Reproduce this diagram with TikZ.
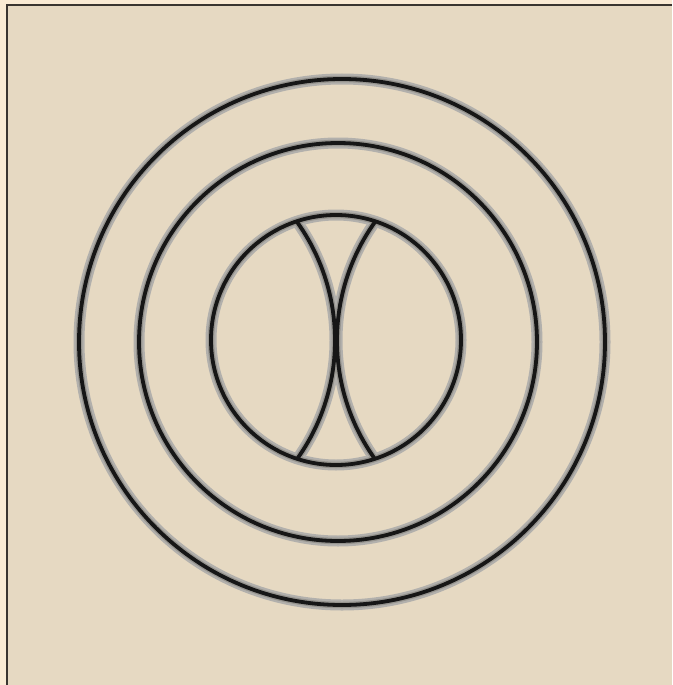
\documentclass[tikz,border=0pt]{standalone}
\definecolor{outerbg}{HTML}{FAEBD4}
\definecolor{innerbg}{HTML}{E6D9C2}
\definecolor{frameline}{HTML}{3A3530}
\definecolor{halo}{HTML}{B2B0AC}
\definecolor{halomid}{HTML}{96948F}
\definecolor{ink}{HTML}{161616}
\tikzset{
  haloline/.style={draw=halo, line width=11pt},
  halomidline/.style={draw=halomid, line width=6.5pt},
  inkline/.style={draw=ink, line width=3.8pt}
}
\begin{document}
\begin{tikzpicture}[x=1pt,y=-1pt]
\useasboundingbox (0,0) rectangle (672,685);
\fill[outerbg] (0,0) rectangle (672,685);
\fill[innerbg] (7,5.2) rectangle (672,685);
\draw[frameline, line width=1.5pt] (7,685) -- (7,5.2) -- (672,5.2);
\coordinate (cO) at (342,342);
\coordinate (cM) at (338,342);
\coordinate (cI) at (336,340);
\coordinate (cL) at (131,340.5);
\coordinate (cR) at (541,340.5);
\foreach \sty in {haloline,halomidline,inkline}{
  \path[\sty] (cO) circle[radius=263pt];
  \path[\sty] (cM) circle[radius=199pt];
  \path[\sty] (cI) circle[radius=125pt];
  \begin{scope}
    \clip (cI) circle[radius=125pt];
    \path[\sty] (cL) circle[radius=204pt];
    \path[\sty] (cR) circle[radius=204pt];
  \end{scope}
}
\end{tikzpicture}
\end{document}
